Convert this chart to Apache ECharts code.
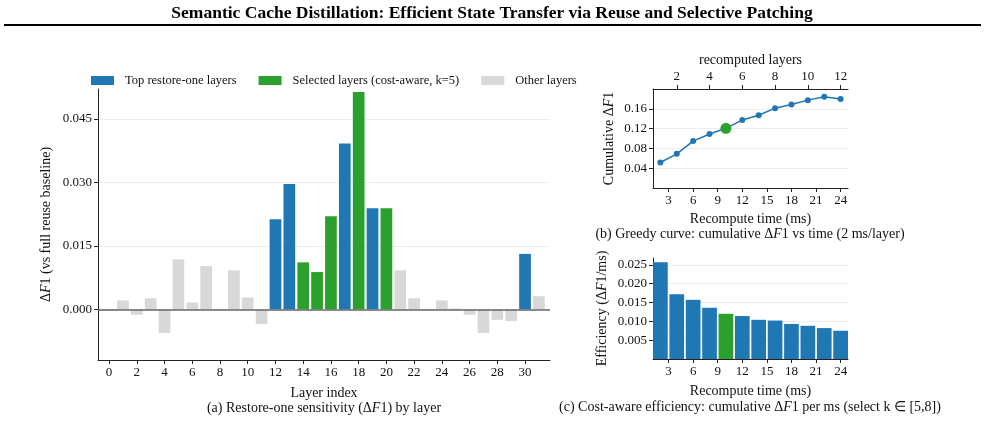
<!DOCTYPE html>
<html>
<head>
<meta charset="utf-8">
<script src="https://cdn.jsdelivr.net/npm/echarts@6/dist/echarts.min.js"></script>
<style>
html, body { margin: 0; padding: 0; background: #fff; }
#chart { width: 985px; height: 422px; }
</style>
</head>
<body>
<div id="chart"></div>
<script>
// (a) restore-one sensitivity per layer
const layers = [0, 1, 2, 3, 4, 5, 6, 7, 8, 9, 10, 11, 12, 13, 14, 15, 16, 17, 18, 19, 20, 21, 22, 23, 24, 25, 26, 27, 28, 29, 30, 31];
const deltaF1 = [-0.0004, 0.0021, -0.0013, 0.0026, -0.0056, 0.0118, 0.0016, 0.0102, 0.0001, 0.0092, 0.0028, -0.0035,
  0.0213, 0.0296, 0.0111, 0.0088, 0.0220, 0.0392, 0.0514, 0.0239, 0.0239, 0.0092, 0.0026, 0.0001,
  0.0021, 0.0002, -0.0013, -0.0056, -0.0025, -0.0028, 0.0131, 0.0031];
const topLayers = [12, 13, 17, 19, 30];
const selectedLayers = [14, 15, 16, 18, 20];

// (b) greedy curve and (c) efficiency
const recomputeMs = [2, 4, 6, 8, 10, 12, 14, 16, 18, 20, 22, 24];
const cumulativeF1 = [0.0515, 0.0691, 0.0948, 0.1090, 0.1206, 0.1375, 0.1470, 0.1613, 0.1688, 0.1775, 0.1843, 0.1796];
const efficiency = [0.0257, 0.0172, 0.0157, 0.0136, 0.0120, 0.0114, 0.0104, 0.0102, 0.0093, 0.0088, 0.0082, 0.0075];
const selectedMs = 10;

// tick labels
const layerTicks = [0, 2, 4, 6, 8, 10, 12, 14, 16, 18, 20, 22, 24, 26, 28, 30];
const deltaTicks = [0, 0.015, 0.03, 0.045];
const msTicks = [3, 6, 9, 12, 15, 18, 21, 24];
const layerCountTicks = [2, 4, 6, 8, 10, 12];
const cumTicks = [0.04, 0.08, 0.12, 0.16];
const effTicks = [0.005, 0.01, 0.015, 0.02, 0.025];

const BLUE = '#1f77b4', GREEN = '#2ca02c', GRAY = '#d8d8d8';
const FONT = 'Liberation Serif';
const rich = { i: { fontStyle: 'italic', fontFamily: FONT, fontSize: 14, color: '#111' } };

const blueData = [], greenData = [], grayData = [];
layers.forEach((l, i) => {
  const p = [l, deltaF1[i]];
  if (topLayers.includes(l)) blueData.push(p);
  else if (selectedLayers.includes(l)) greenData.push(p);
  else grayData.push(p);
});
const effBlue = [], effGreen = [];
recomputeMs.forEach((m, i) => {
  if (m === selectedMs) effGreen.push([m, efficiency[i]]);
  else effBlue.push([m, efficiency[i]]);
});
const selIdx = recomputeMs.indexOf(selectedMs);

function axisBase(ticks, fmt) {
  return {
    axisLine: { show: true, onZero: false, lineStyle: { color: '#222', width: 1 } },
    axisTick: { show: true, customValues: ticks, length: 4, lineStyle: { color: '#222' } },
    axisLabel: { customValues: ticks, formatter: fmt, color: '#111', fontFamily: FONT, fontSize: 13, margin: 6 },
    splitLine: { show: false }
  };
}
const nameStyle = { fontFamily: FONT, fontSize: 14, color: '#111', rich: rich };

const myChart = echarts.init(document.getElementById('chart'));
const option = {
  animation: false,
  textStyle: { fontFamily: FONT },
  legend: {
    left: 86, top: 69,
    icon: 'rect', itemWidth: 23, itemHeight: 9, itemGap: 22,
    textStyle: { fontFamily: FONT, fontSize: 12.5, color: '#111', padding: [0, 0, 0, 6] },
    data: ['Top restore-one layers', 'Selected layers (cost-aware, k=5)', 'Other layers']
  },
  grid: [
    { left: 98, right: 435, top: 89, bottom: 62 },
    { left: 653, right: 137, top: 89, bottom: 234 },
    { left: 653, right: 137, top: 258, bottom: 63 }
  ],
  xAxis: [
    Object.assign(axisBase(layerTicks, v => String(v)), {
      type: 'value', gridIndex: 0, min: -0.8, max: 31.8,
      name: 'Layer index', nameLocation: 'middle', nameGap: 26, nameTextStyle: nameStyle
    }),
    Object.assign(axisBase(msTicks, v => String(v)), {
      type: 'value', gridIndex: 1, min: 1.1, max: 24.9,
      name: 'Recompute time (ms)', nameLocation: 'middle', nameGap: 24, nameTextStyle: nameStyle
    }),
    Object.assign(axisBase(layerCountTicks, v => String(v)), {
      type: 'value', gridIndex: 1, position: 'top', min: 0.55, max: 12.45,
      name: 'recomputed layers', nameLocation: 'middle', nameGap: 22, nameTextStyle: nameStyle
    }),
    Object.assign(axisBase(msTicks, v => String(v)), {
      type: 'value', gridIndex: 2, min: 1.1, max: 24.9,
      name: 'Recompute time (ms)', nameLocation: 'middle', nameGap: 25, nameTextStyle: nameStyle
    })
  ],
  yAxis: [
    Object.assign(axisBase(deltaTicks, v => v.toFixed(3)), {
      type: 'value', gridIndex: 0, min: -0.012, max: 0.0521,
      splitLine: { show: true, lineStyle: { color: '#ededed', width: 1 } },
      name: 'Δ{i|F}1 (vs full reuse baseline)', nameLocation: 'middle', nameGap: 45, nameTextStyle: nameStyle
    }),
    Object.assign(axisBase(cumTicks, v => v.toFixed(2)), {
      type: 'value', gridIndex: 1, min: 0, max: 0.2,
      splitLine: { show: true, lineStyle: { color: '#ededed', width: 1 } },
      name: 'Cumulative Δ{i|F}1', nameLocation: 'middle', nameGap: 37, nameTextStyle: nameStyle
    }),
    Object.assign(axisBase(effTicks, v => v.toFixed(3)), {
      type: 'value', gridIndex: 2, min: 0, max: 0.0268,
      splitLine: { show: true, lineStyle: { color: '#ededed', width: 1 } },
      name: 'Efficiency (Δ{i|F}1/ms)', nameLocation: 'middle', nameGap: 44, nameTextStyle: nameStyle
    })
  ],
  series: [
    {
      name: 'Top restore-one layers', type: 'bar', xAxisIndex: 0, yAxisIndex: 0,
      barWidth: 11.7, barGap: '-100%', itemStyle: { color: BLUE }, data: blueData
    },
    {
      name: 'Selected layers (cost-aware, k=5)', type: 'bar', xAxisIndex: 0, yAxisIndex: 0,
      barWidth: 11.7, barGap: '-100%', itemStyle: { color: GREEN }, data: greenData
    },
    {
      name: 'Other layers', type: 'bar', xAxisIndex: 0, yAxisIndex: 0,
      barWidth: 11.7, barGap: '-100%', itemStyle: { color: GRAY }, data: grayData,
      markLine: {
        silent: true, symbol: 'none', label: { show: false },
        lineStyle: { color: '#666', width: 1.5, type: 'solid' },
        data: [{ yAxis: 0 }]
      },
      z: 1
    },
    {
      type: 'line', xAxisIndex: 1, yAxisIndex: 1,
      data: recomputeMs.map((m, i) => [m, cumulativeF1[i]]),
      symbol: 'circle', symbolSize: 6,
      lineStyle: { color: BLUE, width: 1.5 }, itemStyle: { color: BLUE }
    },
    {
      type: 'scatter', xAxisIndex: 1, yAxisIndex: 1,
      data: [[recomputeMs[selIdx], cumulativeF1[selIdx]]],
      symbolSize: 11, itemStyle: { color: GREEN, opacity: 1 }, z: 10
    },
    {
      type: 'bar', xAxisIndex: 3, yAxisIndex: 2, barWidth: 14.7, barGap: '-100%',
      itemStyle: { color: BLUE }, data: effBlue
    },
    {
      type: 'bar', xAxisIndex: 3, yAxisIndex: 2, barWidth: 14.7, barGap: '-100%',
      itemStyle: { color: GREEN }, data: effGreen
    }
  ],
  graphic: [
    {
      type: 'text', x: 492, y: 13,
      style: {
        text: 'Semantic Cache Distillation: Efficient State Transfer via Reuse and Selective Patching',
        fill: '#000', font: 'bold 17.5px "Liberation Serif"', align: 'center', verticalAlign: 'middle'
      }
    },
    {
      type: 'rect', shape: { x: 4, y: 24, width: 977, height: 2 },
      style: { fill: '#000' }
    },
    {
      type: 'text', x: 324, y: 408,
      style: {
        text: '(a) Restore-one sensitivity (Δ{i|F}1) by layer', rich: rich,
        fill: '#111', font: '14px "Liberation Serif"', align: 'center', verticalAlign: 'middle'
      }
    },
    {
      type: 'text', x: 750, y: 234,
      style: {
        text: '(b) Greedy curve: cumulative Δ{i|F}1 vs time (2 ms/layer)', rich: rich,
        fill: '#111', font: '14px "Liberation Serif"', align: 'center', verticalAlign: 'middle'
      }
    },
    {
      type: 'text', x: 750, y: 407,
      style: {
        text: '(c) Cost-aware efficiency: cumulative Δ{i|F}1 per ms (select k ∈ [5,8])', rich: rich,
        fill: '#111', font: '14px "Liberation Serif"', align: 'center', verticalAlign: 'middle'
      }
    }
  ]
};
myChart.setOption(option);
window.addEventListener('resize', () => {
  myChart.resize();
});
</script>
</body>
</html>
